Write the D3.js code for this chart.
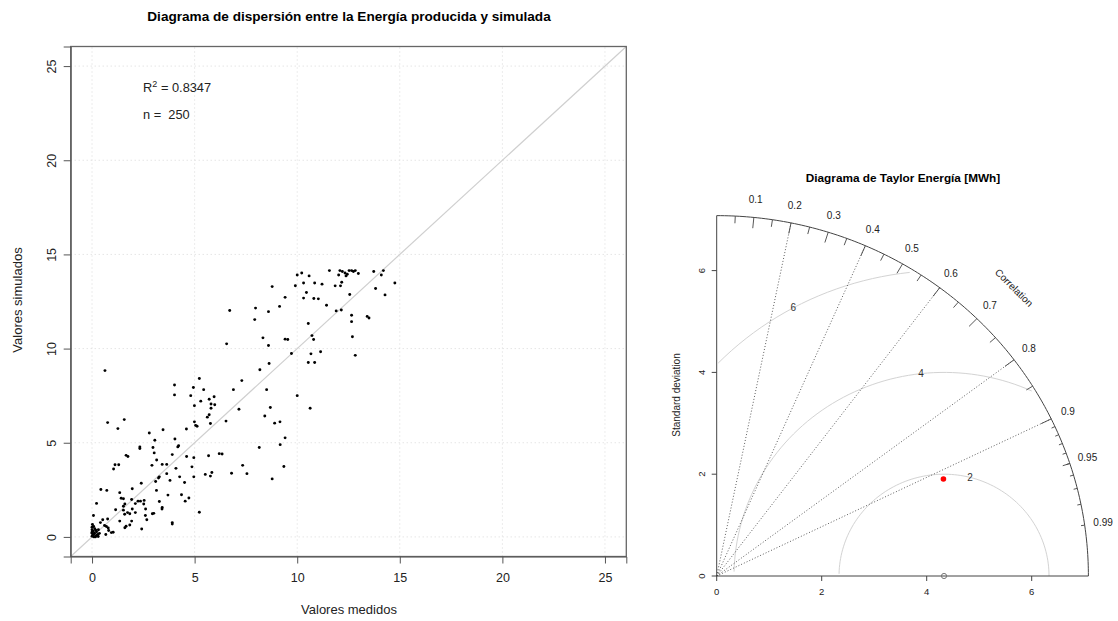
<!DOCTYPE html>
<html>
<head>
<meta charset="utf-8">
<script src="https://cdn.jsdelivr.net/npm/d3@7"></script>
<style>
  body { margin: 0; background: #fff; }
  svg { display: block; font-family: "Liberation Sans", Arial, sans-serif; }
</style>
</head>
<body>
<svg id="chart" width="1118" height="621"></svg>
<script>
// ---- data ----
// [medido, simulado]
const puntos = [
  [11.57,14.14],[12.08,14.14],[12.20,14.09],[12.33,14.01],[12.44,13.95],[12.53,14.14],[12.65,14.14],[12.74,14.09],
  [12.83,14.14],[12.98,13.99],[13.73,14.09],[14.20,14.14],[14.10,13.91],[10.22,14.01],[10.58,13.86],[10.00,13.91],
  [12.02,13.91],[12.38,13.86],[12.17,13.52],[11.85,13.33],[12.11,13.33],[11.21,13.42],[10.85,13.48],[10.31,13.48],
  [9.91,13.34],[8.78,13.29],[14.76,13.48],[13.82,13.19],[14.28,12.85],[12.56,12.87],[9.41,12.72],[10.31,12.68],
  [10.81,12.66],[11.03,12.64],[10.45,12.98],[11.43,12.30],[9.14,12.24],[7.97,12.15],[6.71,12.02],[8.60,11.96],
  [11.90,12.00],[12.15,12.05],[7.93,11.54],[12.65,11.77],[12.65,11.43],[13.41,11.71],[13.50,11.62],[10.54,11.33],
  [8.33,10.57],[9.41,10.50],[9.54,10.48],[10.72,10.69],[10.80,10.48],[12.69,10.63],[8.60,10.16],[6.56,10.25],
  [9.72,9.74],[10.67,9.72],[11.14,9.83],[12.83,9.64],[10.54,9.26],[10.85,9.26],[8.63,9.21],[8.18,8.88],
  [0.63,8.83],[7.30,8.30],[5.23,8.41],[4.94,7.93],[5.44,7.82],[6.89,7.82],[8.51,7.82],[4.02,8.07],
  [4.02,7.54],[4.81,7.50],[10.00,7.50],[5.71,7.31],[5.95,7.44],[5.30,7.21],[5.80,7.06],[4.99,6.97],
  [5.98,7.02],[5.80,6.83],[10.63,6.83],[7.16,6.78],[8.69,6.87],[8.42,6.42],[5.71,6.49],[5.62,6.36],
  [4.99,6.11],[5.05,5.92],[5.12,5.88],[5.77,6.02],[6.53,6.15],[1.57,6.23],[0.76,6.07],[1.26,5.75],
  [8.90,6.04],[9.16,6.11],[4.60,5.73],[3.46,5.69],[2.79,5.52],[9.41,5.26],[4.04,5.20],[3.06,5.13],
  [2.33,4.78],[2.33,4.69],[4.22,4.84],[4.18,4.78],[2.97,4.75],[3.03,4.46],[8.15,4.75],[9.17,4.90],
  [3.91,4.37],[1.66,4.33],[1.75,4.27],[3.15,4.08],[4.61,4.27],[4.96,4.21],[5.68,4.31],[6.20,4.42],
  [6.34,4.40],[1.12,3.83],[1.30,3.83],[1.05,3.61],[3.42,3.85],[3.64,3.85],[2.92,3.80],[4.09,3.64],
  [4.87,3.72],[7.34,3.80],[9.35,3.74],[3.64,3.36],[3.28,3.19],[4.27,3.19],[3.24,3.13],[4.96,3.19],
  [6.80,3.38],[7.55,3.36],[5.52,3.32],[5.84,3.42],[5.77,3.23],[8.78,3.08],[2.40,2.85],[3.10,2.94],
  [3.14,2.47],[3.80,3.00],[1.96,2.56],[4.51,2.89],[0.43,2.52],[0.72,2.47],[1.35,2.35],[3.70,2.22],
  [4.36,2.24],[4.72,2.07],[4.54,1.90],[0.22,1.78],[1.42,2.05],[1.53,2.03],[1.93,1.99],[2.24,1.90],
  [2.36,1.90],[2.54,1.94],[1.60,1.75],[2.52,1.75],[1.53,1.63],[2.11,1.77],[3.28,1.88],[3.42,1.56],
  [3.41,1.48],[1.15,1.44],[1.53,1.42],[1.73,1.29],[2.11,1.29],[2.61,1.48],[2.94,1.23],[3.01,1.25],
  [1.35,0.84],[1.59,1.20],[1.84,1.23],[1.96,1.48],[2.60,1.14],[2.67,0.91],[5.23,1.31],[3.91,0.76],
  [3.91,0.68],[2.42,0.42],[1.93,0.84],[1.84,0.63],[1.66,0.57],[1.60,0.49],[0.07,1.14],[0.52,0.91],
  [0.61,0.61],[0.76,0.95],[0.41,0.76],[0.70,0.55],[0.79,0.47],[0.94,0.23],[0.67,0.13],[0.36,0.19],
  [0.31,0.38],[0.22,0.27],[0.02,0.66],[0.00,0.51],[0.00,0.38],[0.00,0.19],[0.04,0.09],[0.09,0.00],
  [0.16,0.00],[0.00,0.04],[0.13,0.44],[0.29,0.13],[1.03,0.25],[0.81,0.34],[0.05,0.30],[0.10,0.15],
  [0.20,0.05],[0.08,0.55],[0.12,0.20],[0.25,0.10],[0.00,0.25],[0.30,0.02],[0.05,0.05],[0.18,0.35]
];
const ejeTicks = [0, 5, 10, 15, 20, 25];
const r2Texto = "0.8347";
const nTexto = "250";

// Taylor diagram values
const sdObs = 4.33;
const sdMod = 4.72;
const corrMod = 0.915;
const sdTicks = [0, 2, 4, 6];
const rmsNiveles = [2, 4, 6];
const corrLineas = [0.2, 0.4, 0.6, 0.8, 0.9];
const corrEtiquetas = [0.1, 0.2, 0.3, 0.4, 0.5, 0.6, 0.7, 0.8, 0.9, 0.95, 0.99];

const svg = d3.select("#chart");

// ---------- scatter plot ----------
const x = d3.scaleLinear().domain([-1.04, 26.04]).range([70.7, 626.3]);
const y = d3.scaleLinear().domain([-1.04, 26.04]).range([556.5, 46.5]);

const sc = svg.append("g");

// grid
sc.selectAll(".gx").data(ejeTicks).enter().append("line")
  .attr("x1", d => x(d)).attr("x2", d => x(d))
  .attr("y1", y.range()[0]).attr("y2", y.range()[1])
  .attr("stroke", "#d9d9d9").attr("stroke-dasharray", "1,3");
sc.selectAll(".gy").data(ejeTicks).enter().append("line")
  .attr("y1", d => y(d)).attr("y2", d => y(d))
  .attr("x1", x.range()[0]).attr("x2", x.range()[1])
  .attr("stroke", "#d9d9d9").attr("stroke-dasharray", "1,3");

// 1:1 line
sc.append("line")
  .attr("x1", x(-1.04)).attr("y1", y(-1.04))
  .attr("x2", x(26.04)).attr("y2", y(26.04))
  .attr("stroke", "#cfcfcf").attr("stroke-width", 1.2);

// points
sc.selectAll(".pt").data(puntos).enter().append("circle")
  .attr("cx", d => x(d[0])).attr("cy", d => y(d[1]))
  .attr("r", 1.45).attr("fill", "#000");

// box
sc.append("rect")
  .attr("x", x.range()[0]).attr("y", y.range()[1])
  .attr("width", x.range()[1] - x.range()[0])
  .attr("height", y.range()[0] - y.range()[1])
  .attr("fill", "none").attr("stroke", "#666").attr("stroke-width", 1.3);

// axes
const xAx = sc.append("g")
  .attr("transform", `translate(0,${y.range()[0]})`)
  .call(d3.axisBottom(x).tickValues(ejeTicks).tickSize(7).tickPadding(10));
const yAx = sc.append("g")
  .attr("transform", `translate(${x.range()[0]},0)`)
  .call(d3.axisLeft(y).tickValues(ejeTicks).tickSize(7).tickPadding(8));
[xAx, yAx].forEach(g => {
  g.select(".domain").attr("stroke", "#555");
  g.selectAll(".tick line").attr("stroke", "#555");
  g.selectAll("text").attr("font-size", 12.5).attr("fill", "#222")
    .attr("font-family", "Liberation Sans, Arial, sans-serif");
});
yAx.selectAll("text")
  .attr("transform", function () {
    const t = d3.select(this);
    return `rotate(-90,${t.attr("x")},0)`;
  })
  .attr("text-anchor", "middle").attr("dy", "0").attr("x", -15);

// labels
svg.append("text").attr("x", 349).attr("y", 21)
  .attr("text-anchor", "middle").attr("font-size", 13.6).attr("font-weight", "bold")
  .text("Diagrama de dispersión entre la Energía producida y simulada");
svg.append("text").attr("x", 349).attr("y", 614)
  .attr("text-anchor", "middle").attr("font-size", 13).attr("fill", "#222")
  .text("Valores medidos");
svg.append("text").attr("transform", "translate(22,300) rotate(-90)")
  .attr("text-anchor", "middle").attr("font-size", 13).attr("fill", "#222")
  .text("Valores simulados");

const r2 = svg.append("text").attr("x", x(2.49)).attr("y", y(23.6))
  .attr("font-size", 12.8).attr("fill", "#222");
r2.append("tspan").text("R");
r2.append("tspan").attr("dy", -5).attr("font-size", 9).text("2");
r2.append("tspan").attr("dy", 5).text(" = " + r2Texto);
svg.append("text").attr("x", x(2.49)).attr("y", y(22.2))
  .attr("font-size", 12.8).attr("fill", "#222")
  .text("n =\u00a0\u00a0" + nTexto);

// ---------- Taylor diagram ----------
const maxsd = 1.5 * Math.max(sdObs, sdMod);
const tx = d3.scaleLinear().domain([0, 1]).range([716.7, 716.7 + 52.5]);
const ty = d3.scaleLinear().domain([0, 1]).range([576, 576 - 50.9]);
const tg = svg.append("g");
const line = d3.line().x(d => tx(d[0])).y(d => ty(d[1]));

// rms arcs
rmsNiveles.forEach((g, i) => {
  const pts = [];
  for (let t = 0; t <= Math.PI + 1e-9; t += 0.03) {
    const px = Math.cos(t) * g + sdObs, py = Math.sin(t) * g;
    if (px < 0) break;
    if (px * px + py * py <= maxsd * maxsd) pts.push([px, py]);
  }
  tg.append("path").attr("d", line(pts)).attr("fill", "none")
    .attr("stroke", "#d3d3d3").attr("stroke-width", 1);
  const lp = [45, 57, 70][i] - 1;
  const ang = lp * 0.03;
  tg.append("text")
    .attr("x", tx(Math.cos(ang) * g + sdObs)).attr("y", ty(Math.sin(ang) * g))
    .attr("dy", "0.35em").attr("text-anchor", "middle")
    .attr("font-size", 10).attr("fill", "#333").text(g);
});

// correlation lines (dotted)
corrLineas.forEach(c => {
  tg.append("line")
    .attr("x1", tx(0)).attr("y1", ty(0))
    .attr("x2", tx(maxsd * c)).attr("y2", ty(maxsd * Math.sqrt(1 - c * c)))
    .attr("stroke", "#333").attr("stroke-width", 0.8).attr("stroke-dasharray", "1,2");
});

// outer arc
const arcPts = d3.range(0, Math.PI / 2 + 0.001, 0.01).map(t => [Math.cos(t) * maxsd, Math.sin(t) * maxsd]);
arcPts.push([0, maxsd]);
tg.append("path").attr("d", line(arcPts)).attr("fill", "none").attr("stroke", "#444").attr("stroke-width", 1);

// ticks on arc
const tickSet = (vals, f) => vals.forEach(c => {
  const a = Math.acos(c);
  tg.append("line")
    .attr("x1", tx(Math.cos(a) * maxsd)).attr("y1", ty(Math.sin(a) * maxsd))
    .attr("x2", tx(Math.cos(a) * f * maxsd)).attr("y2", ty(Math.sin(a) * f * maxsd))
    .attr("stroke", "#444").attr("stroke-width", 0.9);
});
tickSet(d3.range(1, 10).map(i => i / 10), 0.97);
tickSet(d3.range(0, 10).map(i => 0.05 + i / 10), 0.98);
tickSet(d3.range(91, 100).map(i => i / 100), 0.99);

// correlation labels
corrEtiquetas.forEach(c => {
  const a = Math.acos(c);
  tg.append("text")
    .attr("x", tx(Math.cos(a) * 1.05 * maxsd)).attr("y", ty(Math.sin(a) * 1.05 * maxsd))
    .attr("dy", "0.35em").attr("text-anchor", "middle")
    .attr("font-size", 10).attr("fill", "#222").text(c);
});
tg.append("text")
  .attr("transform", `translate(${tx(maxsd * 0.8)},${ty(maxsd * 0.8)}) rotate(45)`)
  .attr("dy", "0.35em").attr("text-anchor", "middle")
  .attr("font-size", 10).attr("fill", "#222").text("Correlation");

// axes lines
tg.append("line").attr("x1", tx(0)).attr("y1", ty(0)).attr("x2", tx(maxsd)).attr("y2", ty(0))
  .attr("stroke", "#444").attr("stroke-width", 1);
tg.append("line").attr("x1", tx(0)).attr("y1", ty(0)).attr("x2", tx(0)).attr("y2", ty(maxsd))
  .attr("stroke", "#444").attr("stroke-width", 1);
sdTicks.forEach(v => {
  tg.append("line").attr("x1", tx(v)).attr("x2", tx(v)).attr("y1", ty(0)).attr("y2", ty(0) + 5)
    .attr("stroke", "#444");
  tg.append("text").attr("x", tx(v)).attr("y", ty(0) + 19)
    .attr("text-anchor", "middle").attr("font-size", 9.5).attr("fill", "#222").text(v);
  tg.append("line").attr("y1", ty(v)).attr("y2", ty(v)).attr("x1", tx(0)).attr("x2", tx(0) - 5)
    .attr("stroke", "#444");
  tg.append("text").attr("transform", `translate(${tx(0) - 15},${ty(v)}) rotate(-90)`)
    .attr("text-anchor", "middle").attr("dy", "0.35em")
    .attr("font-size", 9.5).attr("fill", "#222").text(v);
});

// observed and model points
tg.append("circle").attr("cx", tx(sdObs)).attr("cy", ty(0)).attr("r", 2.6)
  .attr("fill", "none").attr("stroke", "#777").attr("stroke-width", 1);
tg.append("circle")
  .attr("cx", tx(sdMod * corrMod)).attr("cy", ty(sdMod * Math.sqrt(1 - corrMod * corrMod)))
  .attr("r", 2.8).attr("fill", "#ff0000");

// titles
svg.append("text").attr("x", 903).attr("y", 182)
  .attr("text-anchor", "middle").attr("font-size", 11.8).attr("font-weight", "bold")
  .text("Diagrama de Taylor Energía [MWh]");
svg.append("text").attr("transform", "translate(676,395) rotate(-90)")
  .attr("text-anchor", "middle").attr("dy", "0.35em")
  .attr("font-size", 10).attr("fill", "#222").text("Standard deviation");
</script>
</body>
</html>
